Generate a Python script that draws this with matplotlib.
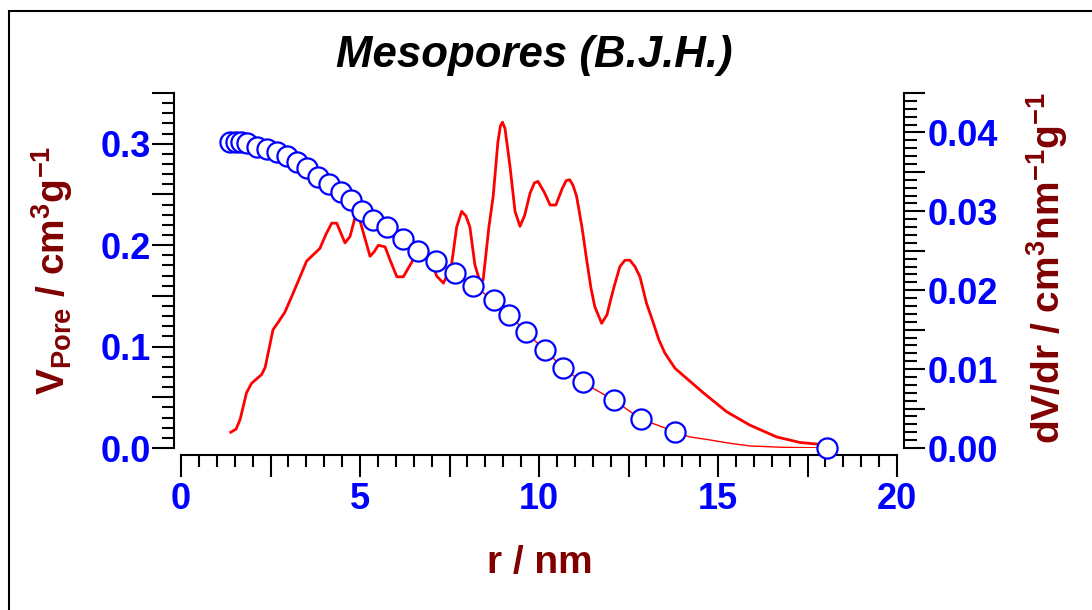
import numpy as np
import matplotlib
matplotlib.use("Agg")
import matplotlib.pyplot as plt
from matplotlib.patches import Rectangle
from matplotlib.ticker import MultipleLocator, FuncFormatter

plt.rcParams['font.family'] = ['Liberation Sans', 'DejaVu Sans']
plt.rcParams['mathtext.fontset'] = 'custom'
plt.rcParams['mathtext.rm'] = 'Liberation Sans:bold'
plt.rcParams['mathtext.it'] = 'Liberation Sans:bold'
plt.rcParams['mathtext.bf'] = 'Liberation Sans:bold'
plt.rcParams['mathtext.default'] = 'rm'

# cumulative pore volume (cm3/g), circles
r_pts = [1.37, 1.54, 1.67, 1.84, 2.13, 2.41, 2.67, 2.95, 3.25, 3.53, 3.84,
         4.14, 4.46, 4.75, 5.05, 5.37, 5.75, 6.21, 6.63, 7.11, 7.65, 8.16,
         8.74, 9.17, 9.63, 10.16, 10.68, 11.22, 12.09, 12.84, 13.80, 18.04]
v_pts = [0.3015, 0.3015, 0.3015, 0.3008, 0.2971, 0.2949, 0.2916, 0.2880,
         0.2821, 0.2758, 0.2676, 0.2604, 0.2522, 0.2446, 0.2340, 0.2249,
         0.2177, 0.2058, 0.1940, 0.1846, 0.1725, 0.1601, 0.1455, 0.1316,
         0.1143, 0.0966, 0.0788, 0.0646, 0.0473, 0.0286, 0.0161, 0.0]
# extra points of the volume line between the last two circles
r_tail = [14.20, 14.78, 15.34, 15.90, 16.80]
v_tail = [0.0110, 0.0079, 0.0046, 0.0020, 0.0007]

# dV/dr distribution (cm3 nm-1 g-1)
r_dv = [1.39, 1.54, 1.65, 1.83, 1.97, 2.25, 2.35, 2.57, 2.71, 2.90, 3.13,
        3.51, 3.88, 4.05, 4.21, 4.35, 4.58, 4.72, 4.92, 5.05, 5.28, 5.40,
        5.51, 5.70, 5.85, 6.03, 6.21, 6.49, 6.75, 7.00, 7.14, 7.33, 7.55,
        7.70, 7.84, 7.96, 8.07, 8.21, 8.35, 8.44, 8.60, 8.72, 8.85, 8.92,
        8.98, 9.05, 9.19, 9.33, 9.47, 9.60, 9.75, 9.87, 9.97, 10.15, 10.31,
        10.47, 10.65, 10.76, 10.86, 10.95, 11.05, 11.20, 11.33, 11.45,
        11.56, 11.75, 11.90, 11.98, 12.10, 12.26, 12.40, 12.54, 12.68,
        12.82, 13.00, 13.19, 13.35, 13.52, 13.80, 14.13, 14.59, 15.24,
        15.89, 16.64, 17.29, 17.76, 17.95]
dv_dr = [0.0020, 0.0024, 0.0036, 0.0070, 0.0082, 0.0093, 0.0102, 0.0150,
         0.0159, 0.0172, 0.0196, 0.0237, 0.0253, 0.0271, 0.0285, 0.0285,
         0.0260, 0.0268, 0.0302, 0.0280, 0.0243, 0.0249, 0.0257, 0.0255,
         0.0237, 0.0217, 0.0217, 0.0239, 0.0249, 0.0237, 0.0218, 0.0209,
         0.0230, 0.0280, 0.0300, 0.0294, 0.0280, 0.0232, 0.0211, 0.0213,
         0.0280, 0.0319, 0.0387, 0.0408, 0.0413, 0.0405, 0.0357, 0.0300,
         0.0281, 0.0295, 0.0323, 0.0336, 0.0338, 0.0324, 0.0308, 0.0308,
         0.0329, 0.0339, 0.0340, 0.0333, 0.0319, 0.0280, 0.0239, 0.0203,
         0.0179, 0.0158, 0.0169, 0.0184, 0.0205, 0.0230, 0.0238, 0.0238,
         0.0230, 0.0217, 0.0184, 0.0159, 0.0137, 0.0120, 0.0101, 0.0088,
         0.0070, 0.0046, 0.0029, 0.0014, 0.0007, 0.0005, 0.0003]

blue = '#0000FF'
dark_red = '#800000'
red = '#FF0000'

fig = plt.figure(figsize=(10.92, 6.10), dpi=100)
W, H = 1092, 610
ax1 = fig.add_axes([181 / W, 1 - 448 / H, (897 - 181) / W, (448 - 93) / H])
ax2 = ax1.twinx()
ax1.set_zorder(ax2.get_zorder() + 1)
ax1.patch.set_visible(False)

# distribution curve on the right axis
ax2.plot(r_dv, dv_dr, color=red, lw=2.0, solid_joinstyle='round')

# cumulative volume line and circles on the left axis
r_line = r_pts[:-1] + r_tail + r_pts[-1:]
v_line = v_pts[:-1] + v_tail + v_pts[-1:]
ax1.plot(r_line, v_line, color=red, lw=1.0, zorder=2)
ax1.plot(r_pts, v_pts, 'o', ms=14.5, mfc='white', mec=blue, mew=1.6,
         zorder=3, clip_on=False)

ax1.set_xlim(0, 20)
ax1.set_ylim(0, 0.35)
ax2.set_ylim(0, 0.045)

for ax in (ax1, ax2):
    ax.spines['top'].set_visible(False)
    for s in ax.spines.values():
        s.set_linewidth(1.5)
ax1.spines['right'].set_visible(False)
ax2.spines['left'].set_visible(False)
ax2.spines['bottom'].set_visible(False)
ax1.spines['left'].set_position(('outward', 5))
ax1.spines['bottom'].set_position(('outward', 5))
ax2.spines['right'].set_position(('outward', 5))

def every(step):
    def fmt(v, pos):
        if abs(v / step - round(v / step)) < 1e-6:
            return ('%.2f' if step < 0.1 else '%.1f' if step < 1 else '%d') % v
        return ''
    return fmt

ax1.xaxis.set_major_locator(MultipleLocator(2.5))
ax1.xaxis.set_minor_locator(MultipleLocator(0.5))
ax1.xaxis.set_major_formatter(FuncFormatter(every(5)))
ax1.yaxis.set_major_locator(MultipleLocator(0.05))
ax1.yaxis.set_minor_locator(MultipleLocator(0.01))
ax1.yaxis.set_major_formatter(FuncFormatter(every(0.1)))
ax2.yaxis.set_major_locator(MultipleLocator(0.005))
ax2.yaxis.set_minor_locator(MultipleLocator(0.001))
ax2.yaxis.set_major_formatter(FuncFormatter(every(0.01)))

tick_font = dict(family='Liberation Sans', weight='bold', size=26)
ax1.tick_params(axis='both', which='major', direction='out', length=15.5, width=1.5,
                colors='black', labelcolor=blue)
ax1.tick_params(axis='both', which='minor', direction='out', length=8.5, width=1.5)
ax1.tick_params(axis='x', which='major', pad=4)
ax1.tick_params(axis='y', which='major', pad=1)
ax2.tick_params(axis='y', which='major', direction='out', length=15, width=1.5,
                labelcolor=blue, pad=2)
ax2.tick_params(axis='y', which='minor', direction='out', length=9, width=1.5)
for lab in ax1.get_xticklabels() + ax1.get_yticklabels() + ax2.get_yticklabels():
    lab.set_fontproperties(tick_font)

fig.text(534 / W, 1 - 56 / H, 'Mesopores (B.J.H.)', ha='center', va='center',
         fontsize=31.5, fontweight='bold', fontstyle='italic')
fig.text(540 / W, 1 - 563 / H, 'r / nm', ha='center', va='center',
         fontsize=28, fontweight='bold', color=dark_red)
fig.text(52 / W, 1 - 270 / H, r'V$_{\rm Pore}$ / cm$^{3}$g$^{-1}$', ha='center',
         va='center', rotation=90, fontsize=28, fontweight='bold', color=dark_red)
fig.text(1047 / W, 1 - 268 / H, r'dV/dr / cm$^{3}$nm$^{-1}$g$^{-1}$', ha='center',
         va='center', rotation=90, fontsize=28, fontweight='bold', color=dark_red)

fig.add_artist(Rectangle((9 / W, -0.1), 1.2, 1 - 11 / H + 0.1, transform=fig.transFigure,
                         fill=False, lw=1.5, ec='black'))

fig.savefig('out.png', dpi=100)
